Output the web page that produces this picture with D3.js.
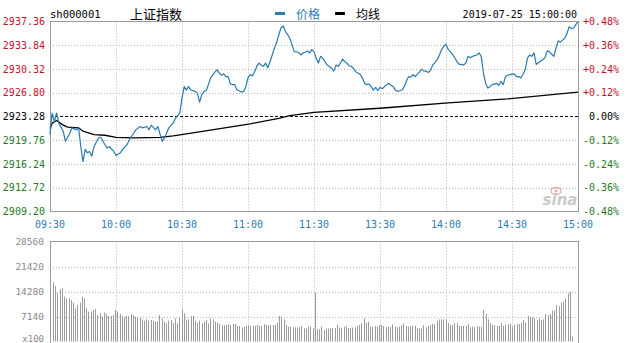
<!DOCTYPE html>
<html><head><meta charset="utf-8">
<script src="https://cdn.jsdelivr.net/npm/d3@7"></script>
<style>
html,body{margin:0;padding:0;background:#fff;overflow:hidden}
svg{display:block}
</style></head>
<body>
<svg id="c" width="629" height="343"></svg>
<script>
// ---------- DATA ----------
const symbol = "sh000001";
const title = "上证指数";
const legendLabels = ["价格", "均线"];
const dateLabel = "2019-07-25 15:00:00";
const prevClose = 2923.28;
const priceTicks = [2937.36, 2933.84, 2930.32, 2926.80, 2923.28, 2919.76, 2916.24, 2912.72, 2909.20];
const pctTicks = ["+0.48%", "+0.36%", "+0.24%", "+0.12%", "0.00%", "-0.12%", "-0.24%", "-0.36%", "-0.48%"];
const timeLabels = ["09:30", "10:00", "10:30", "11:00", "11:30", "13:30", "14:00", "14:30", "15:00"];
const timeTickMinutes = [0, 30, 60, 90, 120, 150, 180, 210, 240];
const volTicks = [28560, 21420, 14280, 7140];
const volUnit = "x100";

// trading-minute index (0 = 09:30, 120 = 11:30/13:00, 240 = 15:00) and price
const priceMinutes = [0,1,2,3,4,6,7,9,10,12,13,14,15,16,17,18,19,20,22,23,25,26,27,29,30,32,33,35,36,38,39,41,42,44,45,46,48,49,51,52,53,54,56,57,59,60,61,62,63,64,66,67,68,69,70,71,72,73,75,76,77,78,79,80,81,82,83,84,85,86,87,88,89,90,91,92,93,94,95,96,97,98,99,100,101,102,103,104,105,106,107,108,109,110,111,113,114,115,116,117,118,119,120,
121,122,123,124,125,126,127,128,129,130,131,132,133,134,135,136,137,138,139,141,142,143,144,145,146,147,148,149,150,151,153,154,155,156,157,158,159,160,161,162,163,164,165,166,168,169,170,171,172,173,174,176,177,178,179,180,181,182,183,185,186,187,188,189,190,191,192,194,195,196,197,198,199,200,201,203,204,205,206,207,208,209,211,212,213,214,215,216,217,218,219,220,221,223,224,225,226,227,228,229,230,231,232,234,235,236,237,238,239,240];
const priceValues = [2920.6,2923.8,2922.5,2923.8,2922.3,2921.1,2919.6,2920.8,2921.6,2921.3,2921.6,2918.8,2916.6,2918.4,2917.9,2918.1,2917.4,2918.8,2920.1,2920.2,2919.1,2918.6,2918.8,2918.1,2917.5,2917.9,2918.4,2919.1,2919.8,2920.8,2921.3,2921.8,2921.6,2921.8,2921.3,2922.0,2921.3,2921.8,2919.6,2920.1,2920.8,2921.6,2922.3,2923.0,2923.8,2926.0,2927.7,2927.2,2927.7,2927.2,2927.0,2926.7,2925.4,2926.5,2927.0,2927.1,2928.0,2929.0,2929.9,2930.2,2929.7,2929.4,2929.6,2929.2,2929.2,2928.1,2928.0,2928.0,2927.2,2927.1,2926.9,2927.0,2927.7,2929.0,2929.5,2929.3,2929.9,2930.7,2931.2,2930.9,2930.7,2931.2,2930.5,2931.4,2932.4,2933.4,2934.2,2935.4,2936.4,2936.7,2935.9,2935.4,2934.9,2933.9,2932.9,2932.8,2932.4,2932.7,2932.8,2933.0,2932.7,2933.2,2932.9,
2931.9,2931.2,2932.2,2931.9,2931.4,2930.9,2930.7,2930.4,2930.0,2930.9,2930.7,2931.2,2931.8,2931.4,2931.2,2930.8,2930.7,2930.4,2929.9,2929.5,2929.0,2928.2,2928.0,2928.1,2927.7,2927.2,2927.6,2927.1,2927.6,2927.4,2928.0,2928.2,2927.9,2927.7,2927.2,2927.0,2927.1,2927.2,2927.7,2928.5,2929.2,2929.1,2929.5,2929.2,2929.9,2930.3,2930.0,2930.0,2929.8,2930.2,2930.9,2931.7,2932.4,2933.2,2933.7,2934.0,2933.2,2932.9,2932.5,2931.4,2931.0,2931.0,2930.9,2931.2,2932.2,2932.0,2932.2,2932.4,2932.7,2932.2,2929.8,2928.2,2927.5,2927.7,2928.0,2928.2,2927.9,2928.5,2928.0,2929.2,2929.4,2929.5,2929.6,2929.2,2929.2,2929.0,2929.5,2930.2,2931.9,2932.4,2932.2,2932.7,2931.0,2931.5,2931.7,2932.0,2933.0,2932.9,2932.5,2932.2,2933.4,2934.5,2934.3,2934.9,2935.6,2936.6,2936.3,2936.4,2936.9,2937.36];

const avgMinutes = [0,1,3,6,8,13,15,20,25,30,38,50,56,62,70,91,104,109,120,150,181,208,240];
const avgValues = [2921.5,2922.3,2922.7,2922.0,2921.7,2921.6,2921.1,2920.6,2920.5,2920.2,2920.1,2920.2,2920.4,2920.7,2921.1,2922.2,2923.0,2923.4,2923.9,2924.5,2925.3,2925.9,2926.9];

// volume per minute bar (x100)
const volumes = [16800,15850,13760,14900,15190,12800,12330,12330,11850,11090,
9470,10420,11090,12800,12330,9470,8520,8520,9000,9280,
7570,8040,7090,8230,7850,7280,7280,7570,9000,8520,
7850,7280,6900,7280,7280,7850,7570,7090,6900,6900,
6330,5950,6330,5950,6140,5950,5660,5660,7570,6620,
5660,5190,5950,6140,5380,6620,5190,6900,9190,8040,
6330,6330,7280,7280,5950,5380,5950,5190,5660,6140,
5190,6620,6330,5660,5380,5000,4710,4710,4710,5000,
4710,5000,5000,4430,4430,4050,4240,4430,4710,4430,
4430,4430,4710,4430,4430,5000,4710,4710,4710,4710,
4710,5380,7280,7090,6330,4710,4240,4240,4050,4050,
4050,4050,4430,3760,3760,4240,4240,3760,
13950,
3475,3475,4240,3280,3760,3665,3760,3856,3856,4710,
3950,3950,4240,4430,3856,3856,3950,4050,4430,4710,
5190,6620,5380,5660,4240,4240,4430,4240,4710,4710,
4430,4050,4240,4240,4900,4240,4050,4240,4710,5190,
4430,4240,4430,4430,4430,3760,3760,3760,4710,4050,
4430,4710,5000,5000,5950,6330,6330,6330,6330,5380,
4710,4710,5190,5190,4430,4430,4430,4430,5000,4050,
4240,4240,4430,4240,4240,9000,7850,6330,5190,4710,
4710,4430,4430,5190,4430,4710,5000,5000,4240,4710,
5000,5000,5380,6140,5380,7280,7090,6900,6620,6140,
6620,6140,6330,7850,7570,7850,8800,8800,10420,10130,
11090,11380,12330,13760,14230,1380];

// ---------- STYLE ----------
const C = {
  red: "#c8102e", green: "#1e7b1e", black: "#000", blue: "#2a7db5",
  line: "#2a7aae", grid: "#b4b4b4", border: "#9a9a9a", vol: "#9c9c9c", volText: "#8a8a8a"
};
const mono = "'DejaVu Sans Mono', 'Liberation Mono', monospace";
const cjk = "'Noto Sans CJK SC', 'Noto Sans', sans-serif";

const svg = d3.select("#c");
const L = 50, R = 578;
const pTop = 21.5, pBot = 211.5;
const vTop = 241.5, vBot = 341.5;

const x = d3.scaleLinear().domain([0, 240]).range([L, R]);
const y = d3.scaleLinear().domain([d3.min(priceTicks), d3.max(priceTicks)]).range([pBot, pTop]);
const xv = d3.scaleLinear().domain([0, volumes.length - 1]).range([53, 572]);
const yv = d3.scaleLinear().domain([0, d3.max(volTicks)]).range([vBot, vTop]);

const crisp = v => Math.round(v) + 0.5;

// ---------- HEADER ----------
svg.append("text").attr("x", 50).attr("y", 18).attr("font-family", mono).attr("font-size", 10.5)
  .attr("fill", "#000").text(symbol);
svg.append("text").attr("x", 130).attr("y", 19).attr("font-family", cjk).attr("font-size", 13)
  .attr("fill", "#000").text(title);
// legend
svg.append("rect").attr("x", 275).attr("y", 12).attr("width", 10).attr("height", 3).attr("fill", C.blue);
svg.append("text").attr("x", 296).attr("y", 18.5).attr("font-family", cjk).attr("font-size", 12)
  .attr("fill", C.blue).text(legendLabels[0]);
svg.append("rect").attr("x", 335).attr("y", 12).attr("width", 10).attr("height", 3).attr("fill", "#000");
svg.append("text").attr("x", 356).attr("y", 18.5).attr("font-family", cjk).attr("font-size", 12)
  .attr("fill", "#000").text(legendLabels[1]);
svg.append("text").attr("x", 577).attr("y", 18).attr("text-anchor", "end").attr("font-family", mono)
  .attr("font-size", 10).attr("fill", "#000").text(dateLabel);

// ---------- PRICE PANEL GRID ----------
const gP = svg.append("g");
priceTicks.forEach((t, i) => {
  if (i === 0 || i === priceTicks.length - 1) return;
  const yy = crisp(y(t));
  const isPrev = Math.abs(t - prevClose) < 1e-6;
  gP.append("line").attr("x1", L).attr("x2", R).attr("y1", yy).attr("y2", yy)
    .attr("stroke", isPrev ? "#000" : C.grid).attr("stroke-width", 1)
    .attr("stroke-dasharray", isPrev ? "3,2" : "1,2");
});
timeTickMinutes.forEach((m, i) => {
  if (i === 0 || i === timeTickMinutes.length - 1) return;
  const xx = crisp(x(m));
  gP.append("line").attr("x1", xx).attr("x2", xx).attr("y1", pTop).attr("y2", pBot)
    .attr("stroke", C.grid).attr("stroke-dasharray", "1,2");
});

// sina watermark
const wm = svg.append("g").attr("opacity", 0.6);
wm.append("text").attr("x", 560).attr("y", 205).attr("text-anchor", "middle")
  .attr("font-family", "'DejaVu Sans', sans-serif").attr("font-size", 15).attr("font-style", "italic")
  .attr("font-weight", "bold").attr("fill", "#a8a8a8").text("sina");
wm.append("ellipse").attr("cx", 556).attr("cy", 191).attr("rx", 5).attr("ry", 3.5)
  .attr("fill", "none").attr("stroke", "#e07070").attr("stroke-width", 1.3);
wm.append("circle").attr("cx", 556).attr("cy", 191).attr("r", 1.5).attr("fill", "#e07070");

// border
svg.append("rect").attr("x", L + 0.5).attr("y", pTop).attr("width", R - L).attr("height", pBot - pTop)
  .attr("fill", "none").attr("stroke", C.border);

// avg line
const avgData = avgMinutes.map((m, i) => [m, avgValues[i]]);
svg.append("path").datum(avgData)
  .attr("d", d3.line().x(d => x(d[0])).y(d => y(d[1])))
  .attr("fill", "none").attr("stroke", "#000").attr("stroke-width", 1.3);

// price line
const priceData = priceMinutes.map((m, i) => [m, priceValues[i]]);
svg.append("path").datum(priceData)
  .attr("d", d3.line().x(d => x(d[0])).y(d => y(d[1])))
  .attr("fill", "none").attr("stroke", C.line).attr("stroke-width", 1.2).attr("stroke-linejoin", "round");

// left price labels
priceTicks.forEach((t, i) => {
  const col = t > prevClose + 1e-6 ? C.red : (t < prevClose - 1e-6 ? C.green : "#000");
  svg.append("text").attr("x", 45).attr("y", y(t)).attr("dy", "0.35em").attr("text-anchor", "end")
    .attr("font-family", mono).attr("font-size", 10).attr("fill", col).text(t.toFixed(2));
  const pc = pctTicks[i];
  const pcol = pc.startsWith("+") ? C.red : (pc.startsWith("-") ? C.green : "#000");
  svg.append("text").attr("x", 619).attr("y", y(t)).attr("dy", "0.35em").attr("text-anchor", "end")
    .attr("font-family", mono).attr("font-size", 10).attr("fill", pcol).text(pc);
});

// time labels
timeLabels.forEach((lab, i) => {
  svg.append("text").attr("x", x(timeTickMinutes[i])).attr("y", 228).attr("text-anchor", "middle")
    .attr("font-family", mono).attr("font-size", 10).attr("fill", C.blue).text(lab);
});

// ---------- VOLUME PANEL ----------
const gV = svg.append("g");
volTicks.forEach((t, i) => {
  if (i === 0) return;
  const yy = crisp(yv(t));
  gV.append("line").attr("x1", L).attr("x2", R).attr("y1", yy).attr("y2", yy)
    .attr("stroke", C.grid).attr("stroke-dasharray", "1,2");
});
timeTickMinutes.forEach((m, i) => {
  if (i === 0 || i === timeTickMinutes.length - 1) return;
  const xx = crisp(x(m));
  gV.append("line").attr("x1", xx).attr("x2", xx).attr("y1", vTop).attr("y2", vBot)
    .attr("stroke", C.grid).attr("stroke-dasharray", "1,2");
});
gV.selectAll("rect.v").data(volumes).enter().append("rect").attr("class", "v")
  .attr("x", (d, i) => Math.round(xv(i)))
  .attr("y", d => yv(d))
  .attr("width", 1)
  .attr("height", d => vBot - yv(d))
  .attr("fill", C.vol);
svg.append("rect").attr("x", L + 0.5).attr("y", vTop).attr("width", R - L).attr("height", vBot - vTop + 2)
  .attr("fill", "none").attr("stroke", C.border);

volTicks.forEach(t => {
  svg.append("text").attr("x", 44).attr("y", yv(t)).attr("dy", "0.35em").attr("text-anchor", "end")
    .attr("font-family", mono).attr("font-size", 9.5).attr("fill", C.volText).text(String(t));
});
svg.append("text").attr("x", 44).attr("y", 341.5).attr("text-anchor", "end")
  .attr("font-family", mono).attr("font-size", 9).attr("fill", C.volText).text(volUnit);
</script>
</body></html>
